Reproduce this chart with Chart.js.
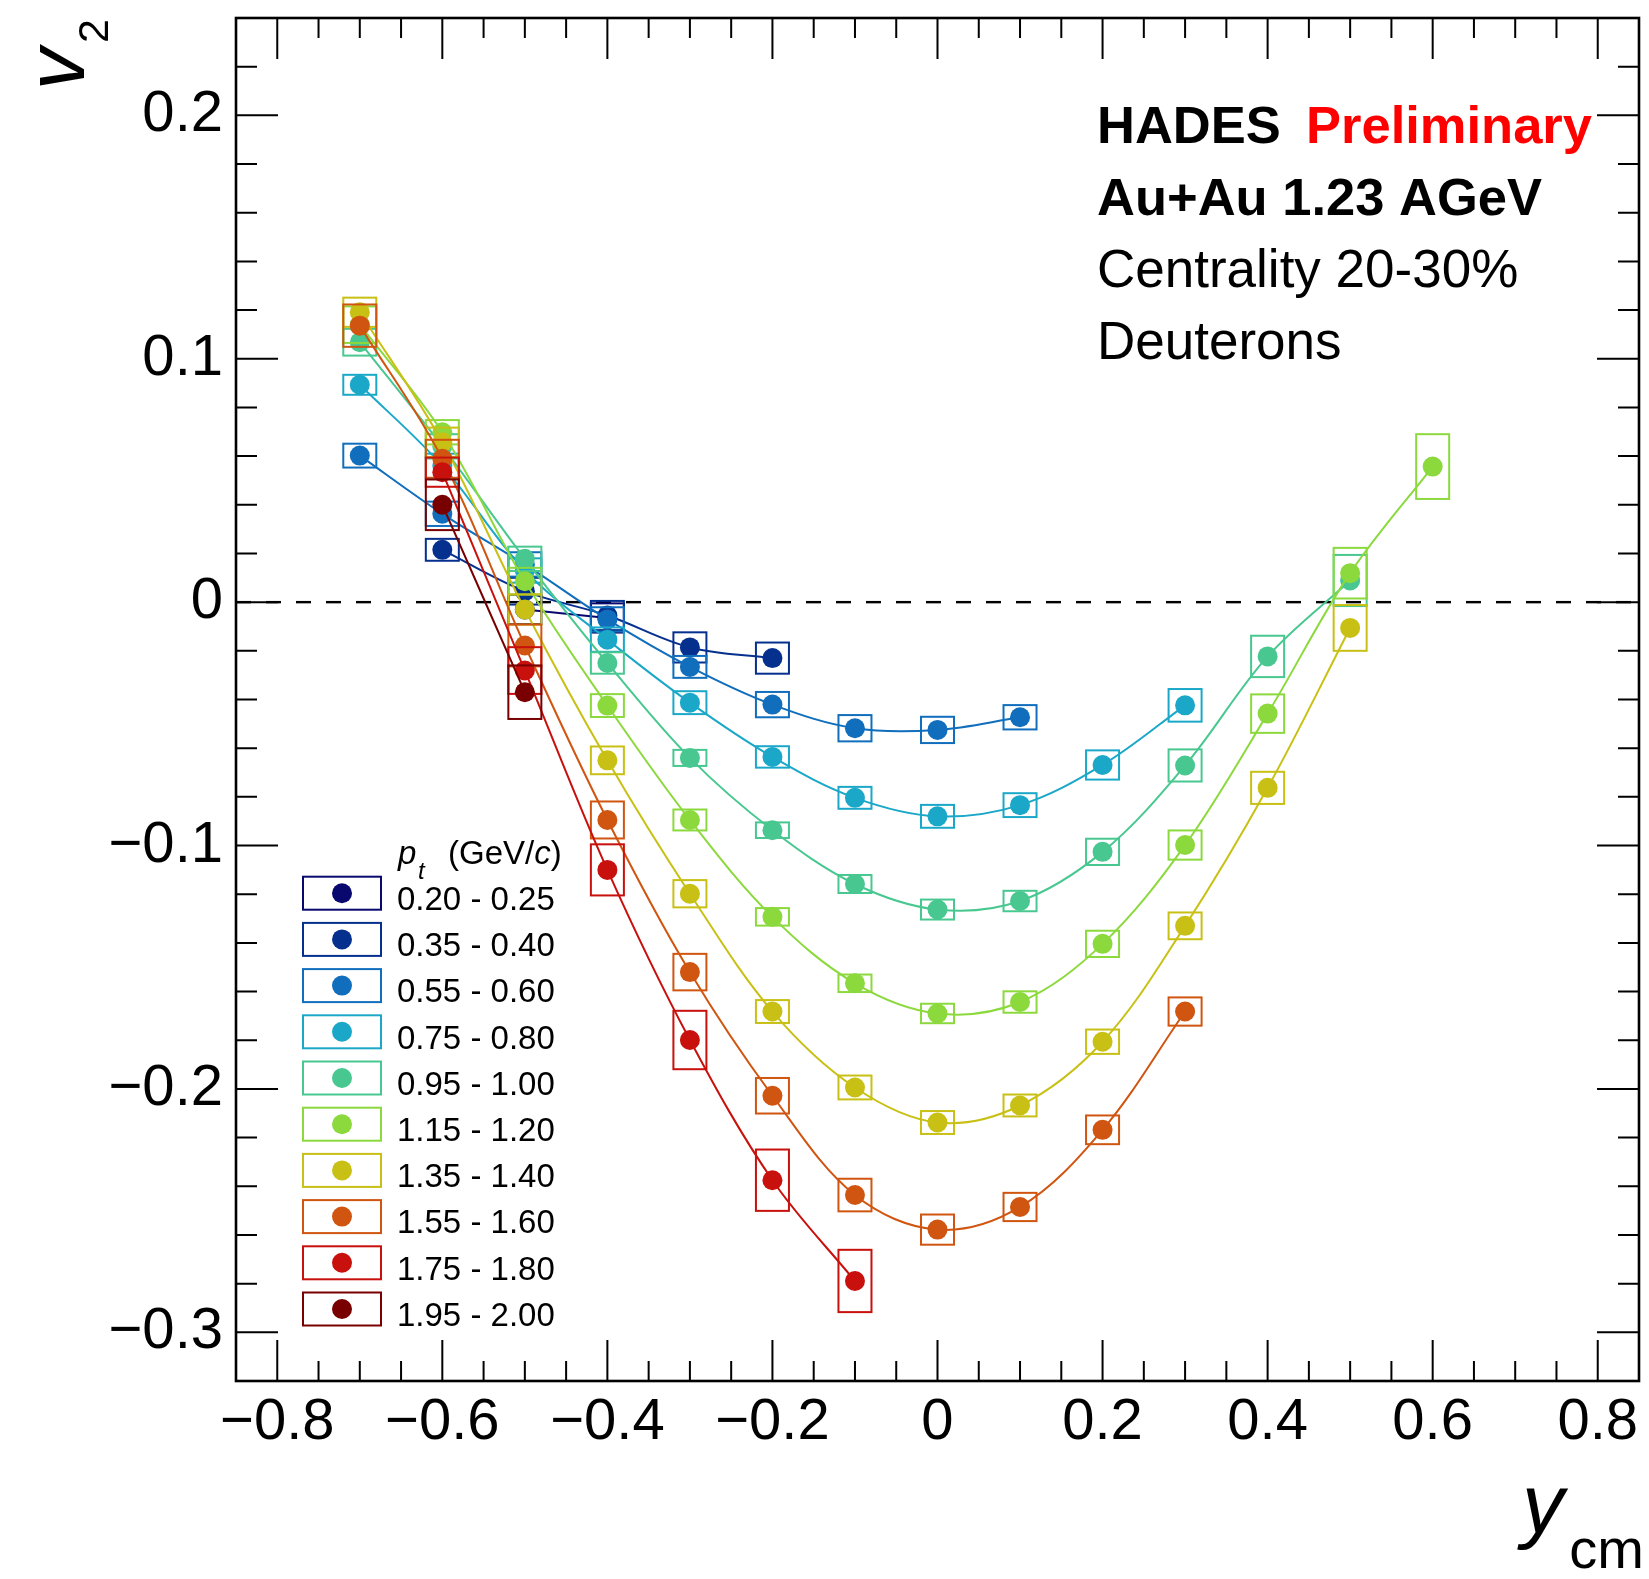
<!DOCTYPE html>
<html>
<head>
<meta charset="utf-8">
<script src="https://cdn.jsdelivr.net/npm/chart.js@4.4.1/dist/chart.umd.min.js"></script>
<style>
  html, body { margin: 0; padding: 0; background: #ffffff; }
  canvas { display: block; }
</style>
</head>
<body>
<canvas id="c" width="1649" height="1579"></canvas>
<script>
const FONT = '"Liberation Sans", Arial, Helvetica, sans-serif';

// Transverse-momentum bins (GeV/c)
const ptBins = ['0.20 - 0.25', '0.35 - 0.40', '0.55 - 0.60', '0.75 - 0.80', '0.95 - 1.00',
                '1.15 - 1.20', '1.35 - 1.40', '1.55 - 1.60', '1.75 - 1.80', '1.95 - 2.00'];
const binColors = ['#08086e', '#06308e', '#106ebc', '#1ba8c8', '#48c890',
                   '#8cd93e', '#c8c014', '#d05510', '#c8100c', '#780000'];

// Rapidity y_cm, v2 and systematic half-height, one set per pt bin
const ycm_020 = [-0.5, -0.4];
const v2_020  = [-0.003, -0.0065];
const sys_020 = [0.006, 0.006];

const ycm_035 = [-0.6, -0.5, -0.4, -0.3, -0.2];
const v2_035  = [0.0215, 0.0045, -0.0055, -0.0186, -0.023];
const sys_035 = [0.0045, 0.0055, 0.006, 0.0062, 0.0064];

const ycm_055 = [-0.7, -0.6, -0.5, -0.4, -0.3, -0.2, -0.1, 0.0, 0.1];
const v2_055  = [0.0602, 0.0363, 0.0155, -0.0071, -0.0266, -0.0421, -0.0518, -0.0525, -0.0473];
const sys_055 = [0.0049, 0.005, 0.005, 0.005, 0.0045, 0.0052, 0.0054, 0.0054, 0.005];

const ycm_075 = [-0.7, -0.6, -0.5, -0.4, -0.3, -0.2, -0.1, 0.0, 0.1, 0.2, 0.3];
const v2_075  = [0.0893, 0.056, 0.013, -0.0154, -0.0413, -0.0636, -0.0804, -0.088, -0.0834, -0.0669, -0.0424];
const sys_075 = [0.0041, 0.005, 0.005, 0.005, 0.0047, 0.0044, 0.0045, 0.0047, 0.0049, 0.006, 0.0067];

const ycm_095 = [-0.7, -0.6, -0.5, -0.4, -0.3, -0.2, -0.1, 0.0, 0.1, 0.2, 0.3, 0.4, 0.5];
const v2_095  = [0.1068, 0.064, 0.0178, -0.025, -0.064, -0.0937, -0.1158, -0.1263, -0.1228, -0.1026, -0.0671, -0.0223, 0.0089];
const sys_095 = [0.0055, 0.005, 0.005, 0.0044, 0.0033, 0.0032, 0.0037, 0.0041, 0.0042, 0.0054, 0.0066, 0.0085, 0.0105];

const ycm_115 = [-0.7, -0.6, -0.5, -0.4, -0.3, -0.2, -0.1, 0.0, 0.1, 0.2, 0.3, 0.4, 0.5, 0.6];
const v2_115  = [0.114, 0.0698, 0.0086, -0.0425, -0.0895, -0.1293, -0.1566, -0.169, -0.1643, -0.1404, -0.0998, -0.0458, 0.0119, 0.0557];
const sys_115 = [0.0075, 0.005, 0.0055, 0.0047, 0.0043, 0.0036, 0.0036, 0.004, 0.0044, 0.0054, 0.006, 0.0079, 0.0104, 0.0133];

const ycm_135 = [-0.7, -0.6, -0.5, -0.4, -0.3, -0.2, -0.1, 0.0, 0.1, 0.2, 0.3, 0.4, 0.5];
const v2_135  = [0.1191, 0.0657, -0.003, -0.065, -0.1198, -0.1682, -0.1994, -0.2138, -0.2068, -0.1806, -0.133, -0.0763, -0.0106];
const sys_135 = [0.006, 0.006, 0.0062, 0.0057, 0.0056, 0.0047, 0.0049, 0.0047, 0.0045, 0.005, 0.0055, 0.0066, 0.0094];

const ycm_155 = [-0.7, -0.6, -0.5, -0.4, -0.3, -0.2, -0.1, 0.0, 0.1, 0.2, 0.3];
const v2_155  = [0.1136, 0.0589, -0.0178, -0.0895, -0.152, -0.2028, -0.2436, -0.2578, -0.2485, -0.2168, -0.1682];
const sys_155 = [0.0087, 0.0078, 0.0086, 0.0076, 0.0075, 0.0073, 0.0067, 0.0062, 0.0058, 0.0059, 0.0058];

const ycm_175 = [-0.6, -0.5, -0.4, -0.3, -0.2, -0.1];
const v2_175  = [0.0534, -0.0281, -0.110, -0.1799, -0.2375, -0.2789];
const sys_175 = [0.006, 0.0096, 0.0105, 0.012, 0.0126, 0.0128];

const ycm_195 = [-0.6, -0.5];
const v2_195  = [0.040, -0.037];
const sys_195 = [0.0104, 0.011];

// Axis ticks
const xTickValues = [-0.8, -0.6, -0.4, -0.2, 0, 0.2, 0.4, 0.6, 0.8];
const xTickLabels = ['\u22120.8', '\u22120.6', '\u22120.4', '\u22120.2', '0', '0.2', '0.4', '0.6', '0.8'];
const yTickValues = [-0.3, -0.2, -0.1, 0, 0.1, 0.2];
const yTickLabels = ['\u22120.3', '\u22120.2', '\u22120.1', '0', '0.1', '0.2'];

const X_MIN = -0.85, X_MAX = 0.85, Y_MIN = -0.32, Y_MAX = 0.24;
const BOX_HALF_WIDTH = 0.02;   // rapidity half-width of the systematic boxes

const bins = [
  [ycm_020, v2_020, sys_020], [ycm_035, v2_035, sys_035], [ycm_055, v2_055, sys_055],
  [ycm_075, v2_075, sys_075], [ycm_095, v2_095, sys_095], [ycm_115, v2_115, sys_115],
  [ycm_135, v2_135, sys_135], [ycm_155, v2_155, sys_155], [ycm_175, v2_175, sys_175],
  [ycm_195, v2_195, sys_195]
];

const datasets = bins.map(([xs, vs], i) => ({
  label: ptBins[i],
  data: xs.map((x, k) => ({ x: x, y: vs[k] })),
  borderColor: binColors[i],
  backgroundColor: binColors[i],
  borderWidth: 2,
  tension: 0.35,
  pointRadius: 10,
  pointHoverRadius: 10,
  pointBorderWidth: 0,
  pointBackgroundColor: binColors[i],
  order: -i
}));

function drawTicksAndFrame(chart) {
  const { ctx, chartArea: a, scales: { x, y } } = chart;
  ctx.save();
  ctx.strokeStyle = '#000';
  ctx.lineWidth = 2;
  ctx.beginPath();
  // x ticks: every 0.05, long every 0.2, on bottom and top
  for (let k = -16; k <= 16; k++) {
    const px = x.getPixelForValue(k * 0.05);
    const len = (k % 4 === 0) ? 41 : 20;
    ctx.moveTo(px, a.bottom); ctx.lineTo(px, a.bottom - len);
    ctx.moveTo(px, a.top); ctx.lineTo(px, a.top + len);
  }
  // y ticks: every 0.02, long every 0.1, on left and right
  for (let k = -16; k <= 12; k++) {
    const py = y.getPixelForValue(k * 0.02);
    const len = (k % 5 === 0) ? 42 : 21;
    ctx.moveTo(a.left, py); ctx.lineTo(a.left + len, py);
    ctx.moveTo(a.right, py); ctx.lineTo(a.right - len, py);
  }
  ctx.stroke();
  ctx.lineWidth = 2.6;
  ctx.strokeRect(a.left, a.top, a.right - a.left, a.bottom - a.top);
  ctx.restore();
}

function drawTexts(chart) {
  const ctx = chart.ctx;
  ctx.save();
  ctx.fillStyle = '#000';
  ctx.textBaseline = 'alphabetic';
  ctx.textAlign = 'left';

  // Top-right header
  ctx.font = 'bold 52.5px ' + FONT;
  ctx.fillText('HADES', 1097, 143);
  ctx.fillStyle = '#ff0000';
  ctx.fillText('Preliminary', 1306, 143);
  ctx.fillStyle = '#000';
  ctx.fillText('Au+Au 1.23 AGeV', 1097, 215);
  ctx.font = '53px ' + FONT;
  ctx.fillText('Centrality 20-30%', 1097, 287);
  ctx.fillText('Deuterons', 1097, 359);

  // y-axis title v_2 (rotated)
  ctx.save();
  ctx.translate(84, 90);
  ctx.rotate(-Math.PI / 2);
  ctx.font = 'italic 84px ' + FONT;
  ctx.fillText('v', 0, 0);
  ctx.font = '43px ' + FONT;
  ctx.fillText('2', 47, 24);
  ctx.restore();

  // x-axis title y_cm
  ctx.font = 'italic 84px ' + FONT;
  ctx.fillText('y', 1522, 1533);
  ctx.font = '56px ' + FONT;
  ctx.textAlign = 'right';
  ctx.fillText('cm', 1644, 1568);
  ctx.restore();
}

function drawLegend(chart) {
  const ctx = chart.ctx;
  ctx.save();
  ctx.fillStyle = '#000';
  ctx.textAlign = 'left';
  ctx.textBaseline = 'alphabetic';
  // header: p_t (GeV/c)
  ctx.font = 'italic 33px ' + FONT;
  ctx.fillText('p', 398, 864);
  ctx.font = 'italic 24px ' + FONT;
  ctx.fillText('t', 418, 879);
  ctx.font = '33px ' + FONT;
  let hx = 448;
  ctx.fillText('(GeV/', hx, 864);
  hx += ctx.measureText('(GeV/').width;
  ctx.font = 'italic 33px ' + FONT;
  ctx.fillText('c', hx, 864);
  hx += ctx.measureText('c').width;
  ctx.font = '33px ' + FONT;
  ctx.fillText(')', hx, 864);

  chart.data.datasets.forEach((ds, i) => {
    const top = 876.7 + i * 46.2;
    ctx.strokeStyle = ds.borderColor;
    ctx.lineWidth = 2;
    ctx.strokeRect(303, top, 78, 33);
    ctx.fillStyle = ds.borderColor;
    ctx.beginPath();
    ctx.arc(342, top + 16.5, 10, 0, Math.PI * 2);
    ctx.fill();
    ctx.fillStyle = '#000';
    ctx.font = '33px ' + FONT;
    ctx.fillText(ds.label, 397, top + 33.3);
  });
  ctx.restore();
}

const rootStyle = {
  id: 'rootStyle',
  beforeDatasetsDraw(chart) {
    const { ctx, chartArea: a, scales: { y } } = chart;
    const y0 = y.getPixelForValue(0);
    ctx.save();
    ctx.strokeStyle = '#000';
    ctx.lineWidth = 2.4;
    ctx.setLineDash([15, 15]);
    ctx.beginPath();
    ctx.moveTo(a.left, y0);
    ctx.lineTo(a.right, y0);
    ctx.stroke();
    ctx.restore();
  },
  beforeDatasetDraw(chart, args) {
    const { ctx, scales: { x, y } } = chart;
    const [xs, vs, ss] = bins[args.index];
    ctx.save();
    ctx.strokeStyle = binColors[args.index];
    ctx.lineWidth = 2;
    xs.forEach((xv, k) => {
      const l = x.getPixelForValue(xv - BOX_HALF_WIDTH);
      const r = x.getPixelForValue(xv + BOX_HALF_WIDTH);
      const t = y.getPixelForValue(vs[k] + ss[k]);
      const b = y.getPixelForValue(vs[k] - ss[k]);
      ctx.strokeRect(l, t, r - l, b - t);
    });
    ctx.restore();
  },
  afterDatasetsDraw(chart) {
    drawLegend(chart);
  },
  afterDraw(chart) {
    drawTicksAndFrame(chart);
    drawTexts(chart);
  }
};

new Chart(document.getElementById('c'), {
  type: 'line',
  data: { datasets },
  options: {
    responsive: false,
    animation: false,
    devicePixelRatio: 1,
    layout: { padding: { left: 0, top: 18, right: 9, bottom: 0 } },
    plugins: { legend: { display: false }, tooltip: { enabled: false } },
    events: [],
    scales: {
      x: {
        type: 'linear',
        min: X_MIN, max: X_MAX,
        afterFit(scale) { scale.height = 198; scale.paddingLeft = 0; scale.paddingRight = 0; },
        afterBuildTicks(scale) { scale.ticks = xTickValues.map(v => ({ value: v })); },
        grid: { display: false, drawTicks: false },
        border: { display: false },
        ticks: {
          autoSkip: false, maxRotation: 0, minRotation: 0, padding: 7,
          color: '#000',
          font: { family: FONT, size: 58 },
          callback: (v) => { const i = xTickValues.findIndex(t => Math.abs(t - v) < 1e-9); return i >= 0 ? xTickLabels[i] : ''; }
        }
      },
      y: {
        type: 'linear',
        min: Y_MIN, max: Y_MAX,
        afterFit(scale) { scale.width = 236; scale.paddingTop = 0; scale.paddingBottom = 0; },
        afterBuildTicks(scale) { scale.ticks = yTickValues.map(v => ({ value: v })); },
        grid: { display: false, drawTicks: false },
        border: { display: false },
        ticks: {
          autoSkip: false, padding: 13,
          color: '#000',
          font: { family: FONT, size: 58 },
          callback: (v) => { const i = yTickValues.findIndex(t => Math.abs(t - v) < 1e-9); return i >= 0 ? yTickLabels[i] : ''; }
        }
      }
    }
  },
  plugins: [rootStyle]
});
</script>
</body>
</html>
